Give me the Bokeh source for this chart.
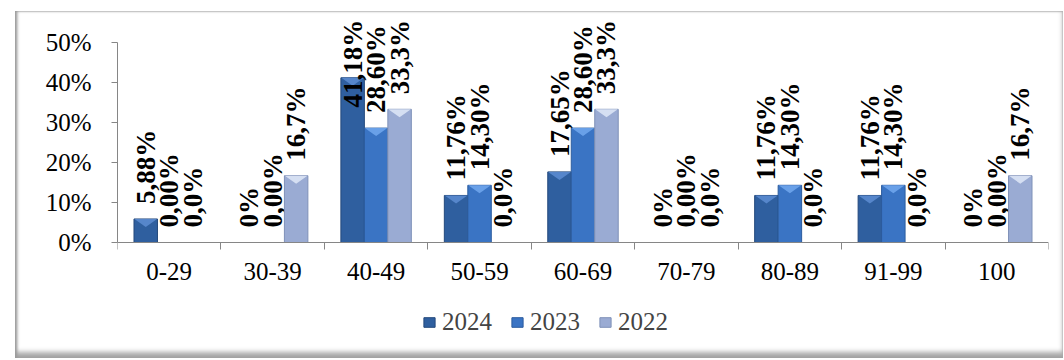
import math
from bokeh.plotting import figure
from bokeh.layouts import column, row
from bokeh.models import (ColumnDataSource, FixedTicker, Legend, LegendItem,
                          PrintfTickFormatter, Spacer)
from bokeh.embed import file_html
from bokeh.resources import INLINE

# ---- data ----
categories = ["0-29", "30-39", "40-49", "50-59", "60-69", "70-79", "80-89", "91-99", "100"]
series_names = ["2024", "2023", "2022"]
values_2024 = [5.88, 0.0, 41.18, 11.76, 17.65, 0.0, 11.76, 11.76, 0.0]
values_2023 = [0.0, 0.0, 28.60, 14.30, 28.60, 0.0, 14.30, 14.30, 0.0]
values_2022 = [0.0, 16.7, 33.3, 0.0, 33.3, 0.0, 0.0, 0.0, 16.7]
labels_2024 = ["5,88%", "0%", "41,18%", "11,76%", "17,65%", "0%", "11,76%", "11,76%", "0%"]
labels_2023 = ["0,00%", "0,00%", "28,60%", "14,30%", "28,60%", "0,00%", "14,30%", "14,30%", "0,00%"]
labels_2022 = ["0,0%", "16,7%", "33,3%", "0,0%", "33,3%", "0,0%", "0,0%", "0,0%", "16,7%"]
y_ticks = [0, 10, 20, 30, 40, 50]

# ---- style ----
colors = ["#2f5f9f", "#3a74c4", "#9aabd3"]
edge_colors = ["#24497c", "#2c5c9e", "#7f91b8"]
bevel_colors = ["#5b8bcf", "#6fa5ec", "#dbe4f5"]
FONT = "'Liberation Serif'"
FS = 25          # axis / legend text
FS_LAB = 27      # bold data labels
W, H = 1048, 347
TOP_B = 5
PX = 4.0                      # pixels per percentage point
ZERO_FROM_TOP = 226           # px from frame top to the 0 line
Y_END = ZERO_FROM_TOP / PX
Y_START = -((H - TOP_B) - ZERO_FROM_TOP) / PX
BAR_W = 0.227
BEVEL_PX = 8
LABEL_GAP_PX = 15
LABEL_CAP = 55.0

char_w = {"%": 0.9, ",": 0.25}


def text_len_px(s):
    return sum(char_w.get(c, 0.5) for c in s) * FS_LAB


p = figure(width=W, height=H, output_backend="svg", toolbar_location=None,
           x_range=(0, len(categories)), y_range=(Y_START, Y_END),
           min_border_left=102, min_border_right=15, min_border_top=TOP_B,
           min_border_bottom=0)
p.border_fill_color = None
p.background_fill_color = None
p.outline_line_color = None
p.styles = {"box-shadow": "inset 2px 0 3px #9a9a9a, inset 0 -6px 5px #a8a8a8, inset 0 1px 1px #dddddd, inset -1px 0 1px #dddddd"}
p.xgrid.visible = False
p.ygrid.visible = False

all_vals = [values_2024, values_2023, values_2022]
all_labs = [labels_2024, labels_2023, labels_2022]
offsets = [-BAR_W, 0.0, BAR_W]
renderers = []
for k, name in enumerate(series_names):
    xs = [i + 0.5 + offsets[k] for i in range(len(categories))]
    vals = all_vals[k]
    labs = all_labs[k]
    ly = []
    for v, s in zip(vals, labs):
        bottom = v + LABEL_GAP_PX / PX
        top = bottom + text_len_px(s) / PX
        if top > LABEL_CAP:
            bottom = LABEL_CAP - text_len_px(s) / PX
        ly.append(bottom)
    src = ColumnDataSource(dict(x=xs, top=vals, lab=labs, ly=ly))
    r = p.vbar(x="x", top="top", width=BAR_W, bottom=0, source=src,
               fill_color=colors[k], line_color=edge_colors[k], line_width=1)
    renderers.append(r)
    # bevel chevron on the top of each non-zero bar
    bx, by = [], []
    for x, v in zip(xs, vals):
        if v > 0:
            h = min(BEVEL_PX / PX, v)
            bx.append([x - BAR_W / 2 + 0.004, x + BAR_W / 2 - 0.004, x])
            by.append([v, v, v - h])
    p.patches(xs=bx, ys=by, fill_color=bevel_colors[k], line_color=None, fill_alpha=0.9)
    p.text(x="x", y="ly", text="lab", source=src, angle=math.pi / 2,
           text_align="left", text_baseline="middle",
           text_font=FONT, text_font_size=f"{FS_LAB}px", text_font_style="bold",
           text_color="black")

# x axis, fixed at 0 inside the frame
centers = [i + 0.5 for i in range(len(categories))]
xa = p.xaxis[0]
xa.fixed_location = 0
xa.ticker = FixedTicker(ticks=centers, minor_ticks=list(range(len(categories) + 1)))
xa.major_label_overrides = {c: lab for c, lab in zip(centers, categories)}
xa.major_tick_out = 0
xa.major_tick_in = 0
xa.minor_tick_out = 7
xa.minor_tick_in = 0
xa.axis_line_color = "#868686"
xa.minor_tick_line_color = "#868686"
xa.major_label_text_font = FONT
xa.major_label_text_font_size = f"{FS}px"
xa.major_label_text_color = "black"
xa.major_label_standoff = 13

# y axis
ya = p.yaxis[0]
ya.ticker = FixedTicker(ticks=y_ticks, minor_ticks=[])
ya.formatter = PrintfTickFormatter(format="%d%%")
ya.bounds = (0, 50)
ya.major_tick_out = 6
ya.major_tick_in = 0
ya.axis_line_color = "#868686"
ya.major_tick_line_color = "#868686"
ya.major_label_text_font = FONT
ya.major_label_text_font_size = f"{FS}px"
ya.major_label_text_color = "black"
ya.major_label_standoff = 20

legend = Legend(items=[LegendItem(label=n, renderers=[r]) for n, r in zip(series_names, renderers)],
                orientation="horizontal", location=(305, 22),
                border_line_color=None, background_fill_alpha=0,
                glyph_width=14, glyph_height=12, label_standoff=6, spacing=18,
                label_text_font=FONT, label_text_font_size=f"{FS}px",
                padding=0, margin=0)
p.add_layout(legend)

layout = column(Spacer(height=11), row(Spacer(width=15), p))
open("out.html", "w").write(file_html(layout, INLINE))
